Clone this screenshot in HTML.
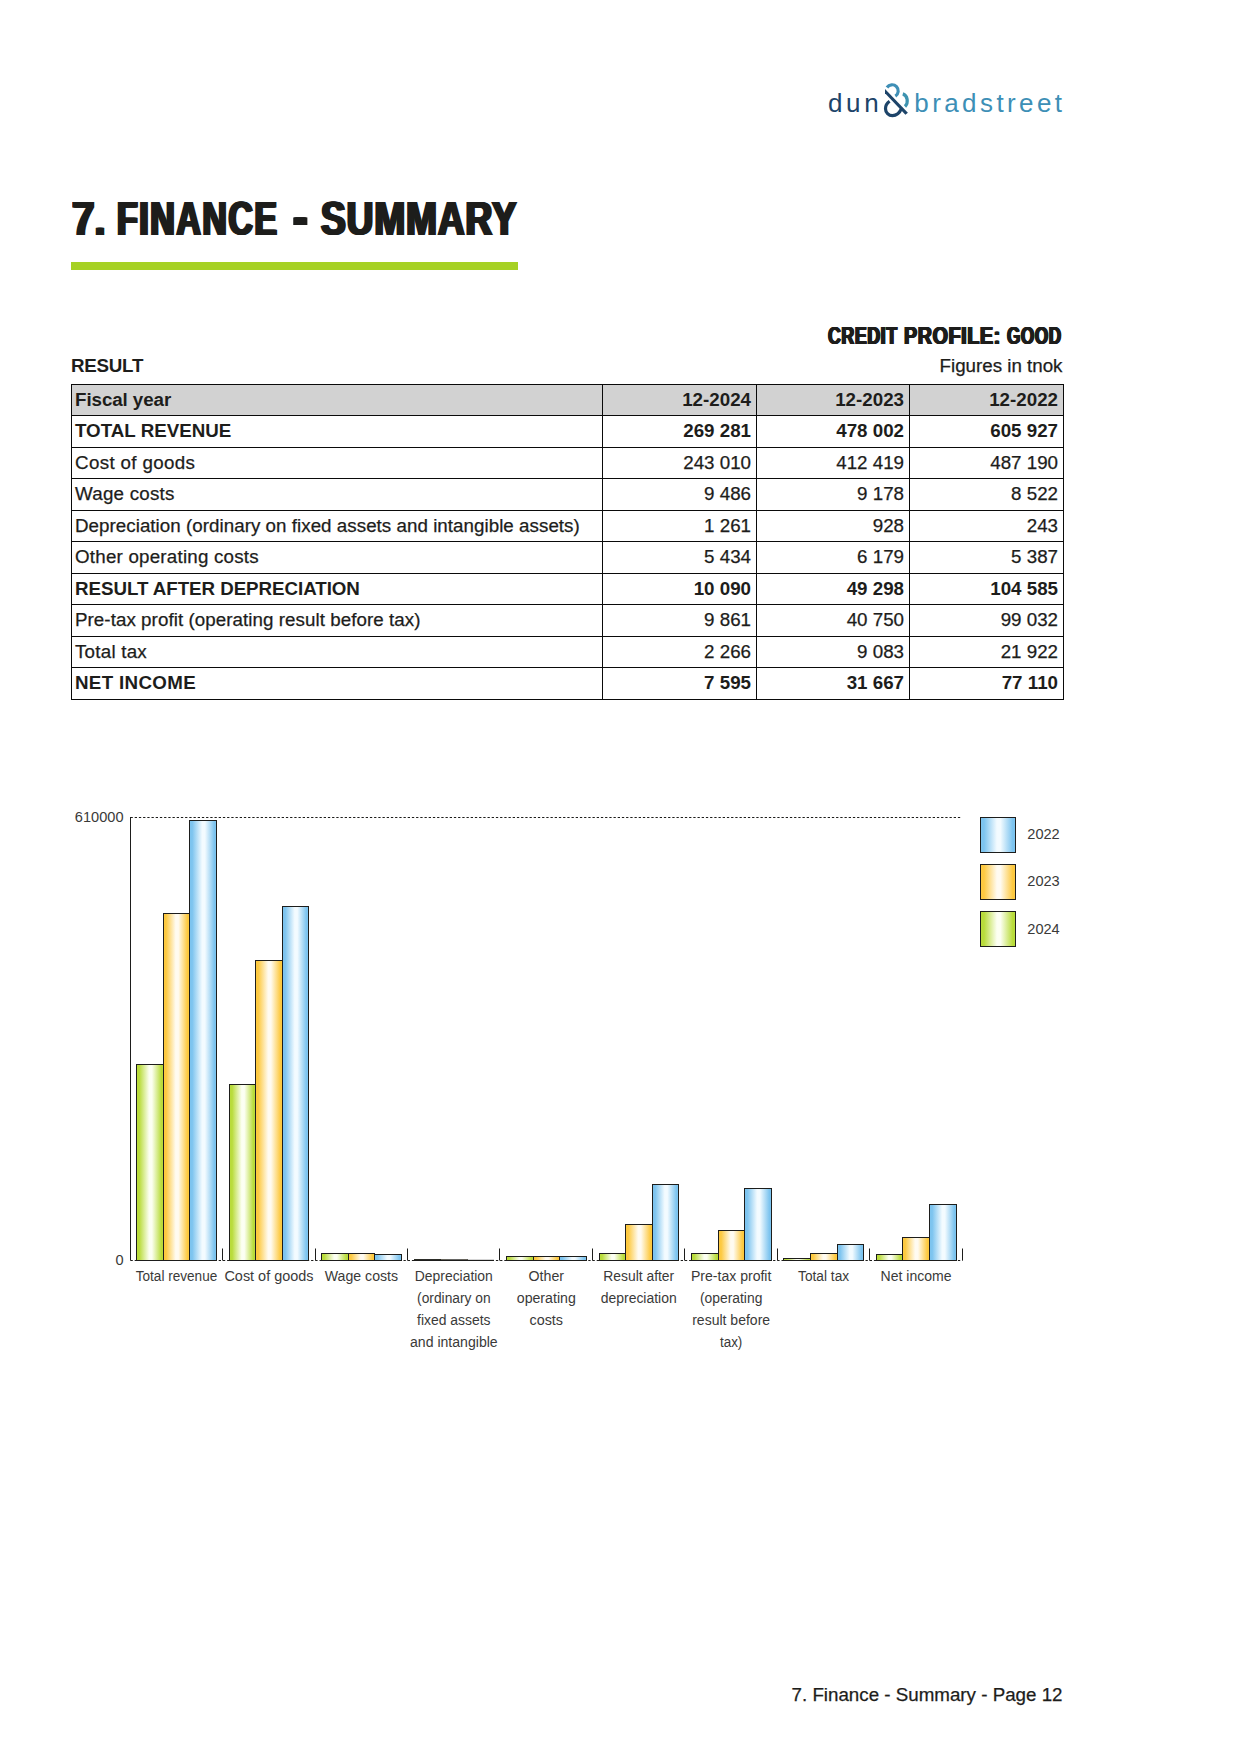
<!DOCTYPE html>
<html lang="en"><head><meta charset="utf-8"><title>7. Finance - Summary</title>
<style>
html,body{margin:0;padding:0;background:#fff;}
body{width:1241px;height:1754px;position:relative;overflow:hidden;font-family:"Liberation Sans",sans-serif;color:#1d1d1b;}
.page{position:absolute;left:0;top:0;width:1241px;height:1754px;background:#fff;}
.cond{transform-origin:0 0;display:inline-block;}
table.res{position:absolute;left:71px;top:384px;border-collapse:collapse;table-layout:fixed;width:993px;font-size:18.75px;}
table.res td{border:1px solid #0a0a0a;padding:0 5px 0 3px;height:30px;line-height:20px;vertical-align:top;white-space:nowrap;overflow:hidden;}
table.res td span{position:relative;display:block;top:5px;}
table.res tr.b td{font-weight:bold;}
table.res tr.h td{background:#d2d2d2;font-weight:bold;}
table.res td.n{text-align:right;}
table.res tr.r td,.rg{-webkit-text-stroke:0.25px #1d1d1b;}
</style></head><body><div class="page">

<svg width="300" height="60" viewBox="800 70 300 60" role="img" aria-label="dun &amp; bradstreet" style="position:absolute;left:800px;top:70px;font-family:'Liberation Sans',sans-serif;font-size:26px;">
<text x="827.9" y="111.5" fill="#1d4469" textLength="50.7" lengthAdjust="spacing">dun</text>
<text x="914.3" y="111.5" fill="#3d8fb6" textLength="147.8" lengthAdjust="spacing">bradstreet</text>
<g fill="none" stroke-width="3.2" stroke-linecap="butt">
<path d="M887.0 87.5A6.13 6.13 0 1 1 895.35 96.1" stroke="#3f8fb6"/>
<path d="M902.8 93.9A6 7.2 0 0 1 905.0 106.5" stroke="#3d93b0"/>
<path d="M889.6 101.3C886.6 103.4 885.5 106 885.5 108.65C885.5 112.5 888.6 115.6 892.45 115.6C896.5 115.6 899.6 113 901.6 108.4" stroke="#1d4469"/>
<path d="M885 89L907.9 112.7L905.4 114.8L885 93.2Z" fill="#1d4469" stroke="none"/>
</g></svg>
<h1 style="margin:0;position:absolute;left:0;top:191.56px;width:1100px;height:53.6px;font-size:48px;line-height:53.616px;font-weight:bold;white-space:nowrap;color:#1d1d1b;"><span style="position:absolute;left:71.70px;top:0;transform-origin:0 0;transform:scaleX(0.8407);text-shadow:1.67px 0 0 #1d1d1b,-1.67px 0 0 #1d1d1b,0.83px 0 0 #1d1d1b,-0.83px 0 0 #1d1d1b;">7.</span> <span style="position:absolute;left:117.00px;top:0;transform-origin:0 0;transform:scaleX(0.7065);text-shadow:1.98px 0 0 #1d1d1b,-1.98px 0 0 #1d1d1b,0.99px 0 0 #1d1d1b,-0.99px 0 0 #1d1d1b;letter-spacing:2.2px;">FINANCE</span> <span style="position:absolute;left:292.55px;top:0;transform-origin:0 33.60px;transform:scale(0.9146,1.3);text-shadow:1.53px 0 0 #1d1d1b,-1.53px 0 0 #1d1d1b,0.77px 0 0 #1d1d1b,-0.77px 0 0 #1d1d1b;">-</span> <span style="position:absolute;left:321.15px;top:0;transform-origin:0 0;transform:scaleX(0.7715);text-shadow:1.81px 0 0 #1d1d1b,-1.81px 0 0 #1d1d1b,0.91px 0 0 #1d1d1b,-0.91px 0 0 #1d1d1b;letter-spacing:1.2px;">SUMMARY</span></h1>
<div style="position:absolute;left:71px;top:262px;width:447px;height:8px;background:#a6d124;"></div>
<h2 style="margin:0;position:absolute;left:0;top:322.21px;width:1100px;height:27.1px;font-size:24.3px;line-height:27.143px;font-weight:bold;white-space:nowrap;color:#1d1d1b;"><span style="position:absolute;left:828.45px;top:0;transform-origin:0 0;transform:scaleX(0.7316);text-shadow:1.16px 0 0 #1d1d1b,-1.16px 0 0 #1d1d1b,0.58px 0 0 #1d1d1b,-0.58px 0 0 #1d1d1b;letter-spacing:0.8px;">CREDIT</span> <span style="position:absolute;left:903.90px;top:0;transform-origin:0 0;transform:scaleX(0.8091);text-shadow:1.05px 0 0 #1d1d1b,-1.05px 0 0 #1d1d1b,0.53px 0 0 #1d1d1b,-0.53px 0 0 #1d1d1b;letter-spacing:0.8px;">PROFILE:</span> <span style="position:absolute;left:1007.30px;top:0;transform-origin:0 0;transform:scaleX(0.7064);text-shadow:1.20px 0 0 #1d1d1b,-1.20px 0 0 #1d1d1b,0.60px 0 0 #1d1d1b,-0.60px 0 0 #1d1d1b;letter-spacing:0.8px;">GOOD</span></h2>
<div style="position:absolute;top:355.63px;font-size:18.75px;line-height:20.944px;font-weight:bold;color:#1d1d1b;white-space:nowrap;letter-spacing:-0.25px;left:71px;">RESULT</div>
<div style="position:absolute;top:355.63px;font-size:18.75px;line-height:20.944px;font-weight:normal;color:#1d1d1b;white-space:nowrap;-webkit-text-stroke:0.25px #1d1d1b;right:178.5px;text-align:right;">Figures in tnok</div>
<table class="res"><colgroup><col style="width:531px"><col style="width:154px"><col style="width:153px"><col style="width:154px"></colgroup>
<tr class="h" style="height:31px"><td style="height:30px"><span style="letter-spacing:-0.07px">Fiscal year</span></td><td class="n" style="height:30px"><span>12-2024</span></td><td class="n" style="height:30px"><span>12-2023</span></td><td class="n" style="height:30px"><span>12-2022</span></td></tr>
<tr class="b" style="height:32px"><td style="height:31px"><span>TOTAL REVENUE</span></td><td class="n" style="height:31px"><span>269 281</span></td><td class="n" style="height:31px"><span>478 002</span></td><td class="n" style="height:31px"><span>605 927</span></td></tr>
<tr class="r" style="height:31px"><td style="height:30px"><span style="letter-spacing:0.35px">Cost of goods</span></td><td class="n" style="height:30px"><span>243 010</span></td><td class="n" style="height:30px"><span>412 419</span></td><td class="n" style="height:30px"><span>487 190</span></td></tr>
<tr class="r" style="height:32px"><td style="height:31px"><span style="letter-spacing:0.24px">Wage costs</span></td><td class="n" style="height:31px"><span>9 486</span></td><td class="n" style="height:31px"><span>9 178</span></td><td class="n" style="height:31px"><span>8 522</span></td></tr>
<tr class="r" style="height:31px"><td style="height:30px"><span style="letter-spacing:0.04px">Depreciation (ordinary on fixed assets and intangible assets)</span></td><td class="n" style="height:30px"><span>1 261</span></td><td class="n" style="height:30px"><span>928</span></td><td class="n" style="height:30px"><span>243</span></td></tr>
<tr class="r" style="height:32px"><td style="height:31px"><span style="letter-spacing:0.22px">Other operating costs</span></td><td class="n" style="height:31px"><span>5 434</span></td><td class="n" style="height:31px"><span>6 179</span></td><td class="n" style="height:31px"><span>5 387</span></td></tr>
<tr class="b" style="height:31px"><td style="height:30px"><span style="letter-spacing:-0.05px">RESULT AFTER DEPRECIATION</span></td><td class="n" style="height:30px"><span>10 090</span></td><td class="n" style="height:30px"><span>49 298</span></td><td class="n" style="height:30px"><span>104 585</span></td></tr>
<tr class="r" style="height:32px"><td style="height:31px"><span style="letter-spacing:0.06px">Pre-tax profit (operating result before tax)</span></td><td class="n" style="height:31px"><span>9 861</span></td><td class="n" style="height:31px"><span>40 750</span></td><td class="n" style="height:31px"><span>99 032</span></td></tr>
<tr class="r" style="height:31px"><td style="height:30px"><span style="letter-spacing:0.24px">Total tax</span></td><td class="n" style="height:30px"><span>2 266</span></td><td class="n" style="height:30px"><span>9 083</span></td><td class="n" style="height:30px"><span>21 922</span></td></tr>
<tr class="b" style="height:32px"><td style="height:31px"><span style="letter-spacing:0.33px">NET INCOME</span></td><td class="n" style="height:31px"><span>7 595</span></td><td class="n" style="height:31px"><span>31 667</span></td><td class="n" style="height:31px"><span>77 110</span></td></tr>
</table>
<svg width="1241" height="640" viewBox="0 780 1241 640" style="position:absolute;left:0;top:780px;font-family:'Liberation Sans',sans-serif;font-size:14.58px;" fill="#3a3a39">
<defs>
<linearGradient id="gg" x1="0" y1="0" x2="1" y2="0"><stop offset="0" stop-color="#b9dc3b"/><stop offset="0.1" stop-color="#b9dc3b"/><stop offset="0.47" stop-color="#fcfff2"/><stop offset="0.57" stop-color="#fcfff2"/><stop offset="0.92" stop-color="#b9dc3b"/><stop offset="1" stop-color="#b9dc3b"/></linearGradient>
<linearGradient id="gy" x1="0" y1="0" x2="1" y2="0"><stop offset="0" stop-color="#fdc940"/><stop offset="0.1" stop-color="#fdc940"/><stop offset="0.47" stop-color="#fffbf1"/><stop offset="0.57" stop-color="#fffbf1"/><stop offset="0.92" stop-color="#fdc940"/><stop offset="1" stop-color="#fdc940"/></linearGradient>
<linearGradient id="gb" x1="0" y1="0" x2="1" y2="0"><stop offset="0" stop-color="#7dc4ef"/><stop offset="0.1" stop-color="#7dc4ef"/><stop offset="0.47" stop-color="#f3fbff"/><stop offset="0.57" stop-color="#f3fbff"/><stop offset="0.92" stop-color="#7dc4ef"/><stop offset="1" stop-color="#7dc4ef"/></linearGradient>
</defs>
<g stroke="#1d1d1b" stroke-width="1" fill="none">
<path d="M130.5 817.5H960.46" stroke-dasharray="2.3 1.9"/>
<path d="M130.5 1260.5H962.46" stroke-dasharray="2.3 1.9"/>
<path d="M130.5 817.0V1260.5"/>
<path d="M222.5 1248.5V1260.5M315.5 1248.5V1260.5M407.5 1248.5V1260.5M499.5 1248.5V1260.5M592.5 1248.5V1260.5M684.5 1248.5V1260.5M777.5 1248.5V1260.5M869.5 1248.5V1260.5M962.5 1248.5V1260.5"/>
</g>
<g stroke="#1d1d1b" stroke-width="1">
<rect x="136.5" y="1064.50" width="27.0" height="196.00" fill="url(#gg)"/>
<rect x="163.5" y="913.50" width="26.0" height="347.00" fill="url(#gy)"/>
<rect x="189.5" y="820.50" width="27.0" height="440.00" fill="url(#gb)"/>
<rect x="229.5" y="1084.50" width="26.0" height="176.00" fill="url(#gg)"/>
<rect x="255.5" y="960.50" width="27.0" height="300.00" fill="url(#gy)"/>
<rect x="282.5" y="906.50" width="26.0" height="354.00" fill="url(#gb)"/>
<rect x="321.5" y="1253.50" width="27.0" height="7.00" fill="url(#gg)"/>
<rect x="348.5" y="1253.50" width="26.0" height="7.00" fill="url(#gy)"/>
<rect x="374.5" y="1254.50" width="27.0" height="6.00" fill="url(#gb)"/>
<rect x="414.5" y="1259.58" width="26.0" height="0.92" fill="url(#gg)"/>
<rect x="440.5" y="1259.83" width="27.0" height="0.67" fill="url(#gy)"/>
<rect x="467.5" y="1260.32" width="26.0" height="0.18" fill="url(#gb)"/>
<rect x="506.5" y="1256.50" width="27.0" height="4.00" fill="url(#gg)"/>
<rect x="533.5" y="1256.50" width="26.0" height="4.00" fill="url(#gy)"/>
<rect x="559.5" y="1256.50" width="27.0" height="4.00" fill="url(#gb)"/>
<rect x="599.5" y="1253.50" width="26.0" height="7.00" fill="url(#gg)"/>
<rect x="625.5" y="1224.50" width="27.0" height="36.00" fill="url(#gy)"/>
<rect x="652.5" y="1184.50" width="26.0" height="76.00" fill="url(#gb)"/>
<rect x="691.5" y="1253.50" width="27.0" height="7.00" fill="url(#gg)"/>
<rect x="718.5" y="1230.50" width="26.0" height="30.00" fill="url(#gy)"/>
<rect x="744.5" y="1188.50" width="27.0" height="72.00" fill="url(#gb)"/>
<rect x="783.5" y="1258.50" width="27.0" height="2.00" fill="url(#gg)"/>
<rect x="810.5" y="1253.50" width="27.0" height="7.00" fill="url(#gy)"/>
<rect x="837.5" y="1244.50" width="26.0" height="16.00" fill="url(#gb)"/>
<rect x="876.5" y="1254.50" width="26.0" height="6.00" fill="url(#gg)"/>
<rect x="902.5" y="1237.50" width="27.0" height="23.00" fill="url(#gy)"/>
<rect x="929.5" y="1204.50" width="27.0" height="56.00" fill="url(#gb)"/>
</g>
<text x="123.5" y="822.2" text-anchor="end">610000</text>
<text x="123.5" y="1264.8" text-anchor="end">0</text>
<text x="176.52" y="1280.8" text-anchor="middle" textLength="81.5" lengthAdjust="spacingAndGlyphs">Total revenue</text>
<text x="268.96" y="1280.8" text-anchor="middle" textLength="89.0" lengthAdjust="spacingAndGlyphs">Cost of goods</text>
<text x="361.40" y="1280.8" text-anchor="middle" textLength="73.3" lengthAdjust="spacingAndGlyphs">Wage costs</text>
<text x="453.84" y="1280.8" text-anchor="middle" textLength="78.0" lengthAdjust="spacingAndGlyphs">Depreciation</text>
<text x="453.84" y="1302.8" text-anchor="middle" textLength="73.5" lengthAdjust="spacingAndGlyphs">(ordinary on</text>
<text x="453.84" y="1324.9" text-anchor="middle" textLength="73.5" lengthAdjust="spacingAndGlyphs">fixed assets</text>
<text x="453.84" y="1346.9" text-anchor="middle" textLength="87.7" lengthAdjust="spacingAndGlyphs">and intangible</text>
<text x="546.28" y="1280.8" text-anchor="middle" textLength="35.5" lengthAdjust="spacingAndGlyphs">Other</text>
<text x="546.28" y="1302.8" text-anchor="middle" textLength="59.0" lengthAdjust="spacingAndGlyphs">operating</text>
<text x="546.28" y="1324.9" text-anchor="middle" textLength="33.5" lengthAdjust="spacingAndGlyphs">costs</text>
<text x="638.72" y="1280.8" text-anchor="middle" textLength="70.9" lengthAdjust="spacingAndGlyphs">Result after</text>
<text x="638.72" y="1302.8" text-anchor="middle" textLength="76.0" lengthAdjust="spacingAndGlyphs">depreciation</text>
<text x="731.16" y="1280.8" text-anchor="middle" textLength="80.5" lengthAdjust="spacingAndGlyphs">Pre-tax profit</text>
<text x="731.16" y="1302.8" text-anchor="middle" textLength="62.4" lengthAdjust="spacingAndGlyphs">(operating</text>
<text x="731.16" y="1324.9" text-anchor="middle" textLength="77.9" lengthAdjust="spacingAndGlyphs">result before</text>
<text x="731.16" y="1346.9" text-anchor="middle" textLength="22.4" lengthAdjust="spacingAndGlyphs">tax)</text>
<text x="823.60" y="1280.8" text-anchor="middle" textLength="51.0" lengthAdjust="spacingAndGlyphs">Total tax</text>
<text x="916.04" y="1280.8" text-anchor="middle" textLength="70.9" lengthAdjust="spacingAndGlyphs">Net income</text>
<rect x="980.5" y="817.5" width="35" height="35" fill="url(#gb)" stroke="#1d1d1b" stroke-width="1"/>
<text x="1027.3" y="838.9">2022</text>
<rect x="980.5" y="864.5" width="35" height="35" fill="url(#gy)" stroke="#1d1d1b" stroke-width="1"/>
<text x="1027.3" y="886.2">2023</text>
<rect x="980.5" y="911.5" width="35" height="35" fill="url(#gg)" stroke="#1d1d1b" stroke-width="1"/>
<text x="1027.3" y="933.5">2024</text>
</svg>
<div style="position:absolute;top:1685.03px;font-size:18.75px;line-height:20.944px;font-weight:normal;color:#1d1d1b;white-space:nowrap;-webkit-text-stroke:0.25px #1d1d1b;right:178.5px;text-align:right;">7. Finance - Summary - Page 12</div>
</div></body></html>
